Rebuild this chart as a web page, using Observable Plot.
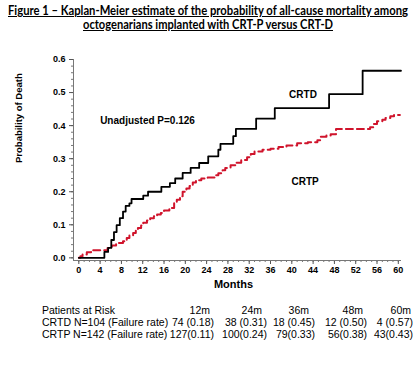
<!DOCTYPE html>
<html>
<head>
<meta charset="utf-8">
<script src="https://cdn.jsdelivr.net/npm/d3@7"></script>
<script src="https://cdn.jsdelivr.net/npm/@observablehq/plot@0.6"></script>
<style>
  html, body { margin: 0; padding: 0; background: #fff; }
  #wrap { position: relative; width: 415px; height: 379px; overflow: hidden; background: #fff; }
  .tline { position: absolute; left: 0; top: 0; white-space: nowrap; text-decoration: underline;
           font-family: Lato, "Open Sans", sans-serif; font-weight: bold; font-size: 12.5px; line-height: 13px; color: #000;
           transform-origin: 0 0; }
  #chart { position: absolute; left: 0; top: 40px; }
  .cell { position: absolute; white-space: nowrap; font-family: "Liberation Sans", Arial, sans-serif;
          font-size: 10.5px; line-height: 12px; color: #000; }
</style>
</head>
<body>
<div id="wrap"></div>
<script>
// ---- data ----
const titleLines = [
  "Figure 1 \u2013 Kaplan-Meier estimate of the probability of all-cause mortality among",
  "octogenarians implanted with CRT-P versus CRT-D"
];
// CRT-D step curve (months, cumulative probability of death)
const crtdMonths = [0, 4.8, 5.5, 6.1, 6.6, 7.1, 7.7, 8.3, 8.8, 9.5, 9.9, 12.1, 13.0, 15.5, 17.1, 18.1, 19.5, 21.0, 22.6, 24.3, 26.2, 26.6, 29.0, 29.5, 33.3, 36.8, 47.0, 53.3, 60.5];
const crtdProb   = [0, 0.018, 0.03, 0.054, 0.078, 0.099, 0.12, 0.14, 0.157, 0.165, 0.178, 0.188, 0.2, 0.215, 0.226, 0.24, 0.257, 0.272, 0.287, 0.307, 0.327, 0.345, 0.368, 0.39, 0.421, 0.453, 0.495, 0.566, 0.566];
// CRT-P step curve
const crtpMonths = [0, 0.3, 0.7, 1.5, 2.3, 5.4, 6.2, 7.0, 8.3, 9.0, 9.5, 10.2, 10.7, 11.1, 11.7, 12.1, 12.8, 13.4, 14.1, 14.7, 15.4, 16.0, 17.0, 17.9, 18.4, 19.0, 19.5, 20.2, 20.8, 21.4, 22.0, 23.0, 24.2, 25.5, 26.2, 27.0, 27.5, 28.5, 29.5, 30.5, 31.6, 32.3, 33.0, 34.5, 36.0, 37.5, 39.0, 41.0, 43.0, 44.8, 45.4, 46.5, 47.3, 48.3, 54.7, 55.3, 56.0, 57.0, 57.6, 58.5, 59.2, 60.3];
const crtpProb   = [0, 0.005, 0.01, 0.017, 0.023, 0.03, 0.037, 0.045, 0.05, 0.06, 0.068, 0.075, 0.083, 0.09, 0.098, 0.106, 0.113, 0.12, 0.126, 0.131, 0.136, 0.143, 0.151, 0.168, 0.176, 0.186, 0.2, 0.21, 0.217, 0.228, 0.235, 0.24, 0.243, 0.25, 0.256, 0.265, 0.272, 0.28, 0.288, 0.296, 0.304, 0.314, 0.322, 0.327, 0.33, 0.335, 0.34, 0.347, 0.35, 0.356, 0.366, 0.37, 0.374, 0.39, 0.395, 0.405, 0.413, 0.418, 0.423, 0.428, 0.432, 0.432];
// annotations
const noteLabels = ["Unadjusted P=0.126", "CRTD", "CRTP"];
const noteMonths = [12.9, 42.1, 42.5];
const noteProbs  = [0.416, 0.493, 0.231];
// axes
const xMajorTicks = d3.range(0, 61, 4);
const xMinorTicks = d3.range(0, 61, 1);
const yMajorTicks = [0, 0.1, 0.2, 0.3, 0.4, 0.5, 0.6];
const yMinorTicks = d3.range(0, 31).map(i => +(i * 0.02).toFixed(2));
const xDomain = [-1, 60.6];
const yDomain = [-0.008, 0.6];
const xLabel = "Months";
const yLabel = "Probability of Death";
// patients at risk table
const riskTitle = "Patients at Risk";
const riskTimes = ["12m", "24m", "36m", "48m", "60m"];
const rowLabels = ["CRTD N=104 (Failure rate)", "CRTP N=142 (Failure rate)"];
const crtdAtRisk = [74, 38, 18, 12, 4];
const crtdFail   = [0.18, 0.31, 0.45, 0.50, 0.57];
const crtpAtRisk = [127, 100, 79, 56, 43];
const crtpFail   = [0.11, 0.24, 0.33, 0.38, 0.43];

// ---- build ----
const wrap = document.getElementById("wrap");

const crtd = crtdMonths.map((m, i) => ({m, p: crtdProb[i]}));
const crtp = crtpMonths.map((m, i) => ({m, p: crtpProb[i]}));
const notes = noteLabels.map((t, i) => ({t, m: noteMonths[i], p: noteProbs[i]}));

const chart = Plot.plot({
  width: 415,
  height: 260,
  marginTop: 19,
  marginBottom: 40,
  marginLeft: 73,
  marginRight: 14,
  x: {domain: xDomain},
  y: {domain: yDomain},
  style: {fontFamily: "'Liberation Sans', Arial, sans-serif", background: "transparent", color: "#000", overflow: "visible"},
  marks: [
    Plot.axisY({ticks: yMinorTicks, tickSize: 2, tickFormat: () => "", label: null, stroke: "#777"}),
    Plot.axisY({ticks: yMajorTicks, tickSize: 4, tickPadding: 4, tickFormat: d3.format(".1f"), label: null,
                fontSize: 9, fontWeight: "bold", stroke: "#555"}),
    Plot.axisX({ticks: xMinorTicks, tickSize: 2, tickFormat: () => "", label: null, stroke: "#777"}),
    Plot.axisX({ticks: xMajorTicks, tickSize: 4, tickPadding: 2, label: null,
                fontSize: 9, fontWeight: "bold", stroke: "#555"}),
    Plot.ruleX([xDomain[0]], {stroke: "#777"}),
    Plot.ruleY([yDomain[0]], {stroke: "#777"}),
    Plot.line(crtp, {x: "m", y: "p", curve: "step-after", stroke: "#d0142c", strokeWidth: 2, strokeDasharray: "7,4"}),
    Plot.line(crtd, {x: "m", y: "p", curve: "step-after", stroke: "#000", strokeWidth: 1.8}),
    Plot.text(notes, {x: "m", y: "p", text: "t", fontSize: 10, fontWeight: "bold", fill: "#000"}),
    Plot.text([xLabel], {frameAnchor: "bottom", dy: 27, dx: -4, fontSize: 11, fontWeight: "bold", fill: "#000"}),
    Plot.text([yLabel], {frameAnchor: "left", dx: -55, dy: 3, rotate: -90, fontSize: 9.5, fontWeight: "bold", fill: "#000"})
  ]
});
chart.id = "chart";
wrap.appendChild(chart);

// title lines (scaled to the reference widths, centred at x = 208)
const titleTargets = [400, 250];
const titleTops = [4, 17.5];
const titleCenter = 208;
titleLines.forEach((txt, i) => {
  const s = document.createElement("div");
  s.className = "tline";
  s.textContent = txt;
  s.style.top = titleTops[i] + "px";
  wrap.appendChild(s);
  const w = s.getBoundingClientRect().width;
  const k = titleTargets[i] / w;
  s.style.left = (titleCenter - titleTargets[i] / 2) + "px";
  s.style.transform = `scaleX(${k})`;
});

// risk table
const colRight = [214, 267, 315, 367, 413];
const headerShift = [4, 5, 6, 4, 2];
const rowTops = [304, 315.7, 328.3];
const labelLeft = 42;
function cell(text, top, left, right) {
  const c = document.createElement("div");
  c.className = "cell";
  c.textContent = text;
  c.style.top = top + "px";
  if (left != null) c.style.left = left + "px";
  if (right != null) c.style.right = (415 - right) + "px";
  wrap.appendChild(c);
}
cell(riskTitle, rowTops[0], labelLeft);
riskTimes.forEach((t, j) => cell(t, rowTops[0], null, colRight[j] - headerShift[j]));
cell(rowLabels[0], rowTops[1], labelLeft);
crtdAtRisk.forEach((n, j) => cell(`${n} (${crtdFail[j].toFixed(2)})`, rowTops[1], null, colRight[j]));
cell(rowLabels[1], rowTops[2], labelLeft);
crtpAtRisk.forEach((n, j) => cell(`${n}(${crtpFail[j].toFixed(2)})`, rowTops[2], null, colRight[j]));
</script>
</body>
</html>
